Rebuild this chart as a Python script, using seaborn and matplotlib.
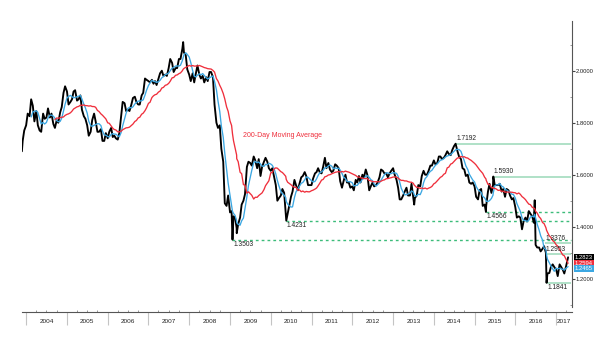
import numpy as np
import pandas as pd
import matplotlib
matplotlib.use("Agg")
import matplotlib.pyplot as plt
import matplotlib.dates as mdates
from matplotlib.ticker import FuncFormatter, FixedLocator
import seaborn as sns

# GBP/USD closes sampled on the 1st and 15th of each month
start_dates = ["2003-11-24", "2003-12-01", "2003-12-15"]
start_closes = [1.690, 1.730, 1.770]

closes_2004 = [1.790, 1.835, 1.825, 1.890, 1.865, 1.805, 1.845, 1.790, 1.770, 1.765, 1.835, 1.815,
               1.820, 1.855, 1.820, 1.835, 1.795, 1.780, 1.810, 1.800, 1.840, 1.860, 1.915, 1.940]
closes_2005 = [1.920, 1.870, 1.880, 1.890, 1.920, 1.925, 1.885, 1.890, 1.905, 1.850, 1.825, 1.815,
               1.790, 1.750, 1.765, 1.810, 1.835, 1.805, 1.765, 1.765, 1.775, 1.730, 1.730, 1.760]
closes_2006 = [1.740, 1.765, 1.780, 1.745, 1.750, 1.740, 1.735, 1.760, 1.825, 1.880, 1.875, 1.845,
               1.850, 1.845, 1.870, 1.895, 1.900, 1.880, 1.870, 1.870, 1.905, 1.915, 1.970, 1.965]
closes_2007 = [1.960, 1.955, 1.965, 1.950, 1.960, 1.945, 1.970, 1.990, 2.000, 1.980, 1.985, 1.980,
               2.010, 2.045, 2.030, 1.995, 2.010, 2.010, 2.045, 2.045, 2.085, 2.070, 2.060, 2.005]
closes_2008 = [1.985, 1.960, 1.990, 1.955, 1.990, 2.020, 1.985, 1.970, 1.980, 1.955, 1.975, 1.960,
               1.995, 1.995, 1.975, 1.870, 1.800, 1.780, 1.790, 1.700, 1.650, 1.490, 1.480, 1.520]
closes_2009 = [1.455, 1.460, 1.440, 1.435, 1.395, 1.410, 1.435, 1.485, 1.500, 1.525, 1.630, 1.650,
               1.645, 1.635, 1.670, 1.655, 1.625, 1.660, 1.595, 1.630, 1.650, 1.665, 1.650, 1.625]
closes_2010 = [1.615, 1.625, 1.590, 1.560, 1.500, 1.510, 1.520, 1.545, 1.530, 1.455, 1.450, 1.480,
               1.515, 1.535, 1.580, 1.560, 1.540, 1.565, 1.590, 1.595, 1.610, 1.595, 1.560, 1.560]
closes_2011 = [1.560, 1.585, 1.605, 1.610, 1.625, 1.610, 1.605, 1.630, 1.665, 1.625, 1.645, 1.620,
               1.610, 1.615, 1.640, 1.635, 1.625, 1.575, 1.550, 1.575, 1.600, 1.570, 1.570, 1.550]
closes_2012 = [1.555, 1.540, 1.580, 1.570, 1.595, 1.570, 1.600, 1.590, 1.620, 1.600, 1.540, 1.555,
               1.570, 1.555, 1.560, 1.570, 1.590, 1.620, 1.615, 1.605, 1.605, 1.590, 1.605, 1.615]
closes_2013 = [1.625, 1.600, 1.580, 1.550, 1.505, 1.505, 1.520, 1.535, 1.550, 1.520, 1.520, 1.565,
               1.510, 1.510, 1.520, 1.560, 1.555, 1.595, 1.615, 1.600, 1.600, 1.615, 1.635, 1.635]
closes_2014 = [1.655, 1.640, 1.645, 1.670, 1.670, 1.660, 1.665, 1.675, 1.690, 1.680, 1.675, 1.695,
               1.710, 1.700, 1.690, 1.670, 1.660, 1.625, 1.620, 1.595, 1.600, 1.570, 1.565, 1.570]
closes_2015 = [1.555, 1.515, 1.505, 1.540, 1.545, 1.480, 1.485, 1.480, 1.535, 1.565, 1.530, 1.560,
               1.560, 1.560, 1.560, 1.565, 1.535, 1.545, 1.515, 1.545, 1.540, 1.520, 1.505, 1.510]
closes_2016 = [1.475, 1.435, 1.440, 1.435, 1.390, 1.420, 1.435, 1.420, 1.460, 1.450, 1.440, 1.415,
               1.330, 1.320, 1.320, 1.305, 1.315, 1.325, 1.300, 1.220, 1.222, 1.245, 1.255, 1.245]
closes_2017 = [1.235, 1.210, 1.255, 1.245, 1.235, 1.220, 1.250]

# turning points and the latest close
pivot_dates = ["2007-11-08", "2009-01-23", "2009-03-02", "2010-05-20", "2013-07-09",
               "2014-07-15", "2015-04-13", "2015-06-18", "2016-06-23", "2016-10-07", "2017-04-18"]
pivot_closes = [2.1100, 1.3503, 1.3750, 1.4231, 1.4850,
                1.7192, 1.4566, 1.5930, 1.5018, 1.1841, 1.2823]

# horizontal reference levels
level_values = [1.7192, 1.5930, 1.4566, 1.4231, 1.3503, 1.3376, 1.2953, 1.1841]
level_starts = ["2014-07-15", "2015-06-18", "2015-04-13", "2010-05-20", "2009-01-23",
                "2016-09-23", "2016-09-23", "2016-10-07"]
level_dashed = [False, False, True, True, True, False, False, False]
level_label_above = [True, True, False, False, False, True, True, False]

year_labels = [str(y) for y in range(2004, 2018)]

# ---- assemble the series ----
yearly = {2004: closes_2004, 2005: closes_2005, 2006: closes_2006, 2007: closes_2007,
          2008: closes_2008, 2009: closes_2009, 2010: closes_2010, 2011: closes_2011,
          2012: closes_2012, 2013: closes_2013, 2014: closes_2014, 2015: closes_2015,
          2016: closes_2016, 2017: closes_2017}
parts = [pd.Series(start_closes, index=pd.to_datetime(start_dates))]
for yr, vals in yearly.items():
    idx = pd.date_range(f"{yr}-01-01", periods=len(vals), freq="SMS")
    parts.append(pd.Series(vals, index=idx))
parts.append(pd.Series(pivot_closes, index=pd.to_datetime(pivot_dates)))
price = pd.concat(parts)
price = price[~price.index.duplicated(keep="last")].sort_index()

first = price.index[0]
ma200 = price.rolling("290D").mean()
ma200[price.index < first + pd.Timedelta(days=290)] = np.nan
ma50 = price.rolling("72D").mean()
ma50[price.index < first + pd.Timedelta(days=70)] = np.nan

df = pd.DataFrame({"date": price.index, "close": price.values,
                   "ma50": ma50.values, "ma200": ma200.values})


def dnum(d):
    return mdates.date2num(pd.Timestamp(d).to_pydatetime())


# ---- figure ----
sns.set_theme(style="white")
plt.rcParams["font.family"] = ["Liberation Sans", "DejaVu Sans"]

fig = plt.figure(figsize=(6, 3.4), dpi=100)
ax = fig.add_axes([22 / 600, 1 - 312 / 340, 550 / 600, 291 / 340])

GREEN_SOLID = "#9ad9b8"
GREEN_DASH = "#3cbc7a"
BLUE = "#3ba7e2"
RED = "#ef2f3c"

xmin, xmax = dnum("2003-11-25"), dnum("2017-05-23")
line_end = dnum("2017-05-15")

sns.lineplot(data=df, x="date", y="close", color="black", lw=1.35, ax=ax, zorder=3)
sns.lineplot(data=df, x="date", y="ma50", color=BLUE, lw=0.95, ax=ax, zorder=4)
sns.lineplot(data=df, x="date", y="ma200", color=RED, lw=0.95, ax=ax, zorder=5)

for v, s, dashed, above in zip(level_values, level_starts, level_dashed, level_label_above):
    x0 = dnum(s)
    ax.hlines(v, x0, line_end, colors=GREEN_DASH if dashed else GREEN_SOLID,
              linestyles=(0, (2.0, 2.2)) if dashed else "-", lw=1.0 if dashed else 1.1, zorder=1)
    ax.annotate(f"{v:.4f}", xy=(x0, v), xytext=(0.5, 1.0 if above else -1.0),
                textcoords="offset points", ha="left", va="bottom" if above else "top",
                fontsize=4.8, color="#222222", zorder=6)

ax.text(dnum("2009-04-27"), 1.7527, "200-Day Moving Average", color=RED,
        fontsize=5.0, ha="left", va="center")

ax.set_xlim(xmin, xmax)
ax.set_ylim(1.0719, 2.1912)
ax.set_xlabel("")
ax.set_ylabel("")

# y axis on the right
ax.yaxis.tick_right()
ax.yaxis.set_major_locator(FixedLocator([1.2, 1.4, 1.6, 1.8, 2.0]))
ax.yaxis.set_minor_locator(FixedLocator([1.1, 1.3, 1.5, 1.7, 1.9, 2.1]))
ax.yaxis.set_major_formatter(FuncFormatter(lambda v, p: f"{v:.4f}"))
ax.tick_params(axis="y", which="both", left=False, right=True, labelleft=False, labelright=True)
ax.tick_params(axis="y", which="major", direction="out", length=2, width=0.8, pad=0.6,
               labelsize=4.2, color="#444444", labelcolor="#222222")
ax.tick_params(axis="y", which="minor", direction="in", length=1.5, width=0.6, color="#888888")

# x axis: year separators below, quarter marks above, year names centred in each span
ax.xaxis.set_major_locator(mdates.YearLocator())
ax.xaxis.set_minor_locator(mdates.MonthLocator(bymonth=[4, 7, 10]))
ax.tick_params(axis="x", which="both", bottom=True, top=False, labelbottom=False)
ax.tick_params(axis="x", which="major", direction="out", length=9.5, width=0.8, color="#c4c4c4")
ax.tick_params(axis="x", which="minor", direction="in", length=1.6, width=0.6, color="#888888")
xt = ax.get_xaxis_transform()
for lab in year_labels:
    y0 = max(dnum(f"{lab}-01-01"), xmin)
    y1 = min(dnum(f"{int(lab) + 1}-01-01"), xmax)
    mid = (y0 + y1) / 2
    ax.annotate(lab, xy=(mid, 0), xycoords=xt, xytext=(0, -6.6), textcoords="offset points",
                ha="center", va="center", fontsize=4.6, color="#222222", annotation_clip=False)

for side in ("left", "top"):
    ax.spines[side].set_visible(False)
ax.spines["right"].set_color("#555555")
ax.spines["right"].set_linewidth(0.8)
ax.spines["right"].set_bounds(1.091, 2.1912)
ax.spines["bottom"].set_color("#555555")
ax.spines["bottom"].set_linewidth(0.8)

# last-value tags on the right edge
last_close = price.iloc[-1]
last_red = ma200.iloc[-1]
last_blue = ma50.iloc[-1]
step = 0.0195
pos_black = last_close
pos_red = min(last_red, pos_black - step)
pos_blue = min(last_blue, pos_red - step)
yt = ax.get_yaxis_transform()
for val, pos, fc in [(last_close, pos_black, "black"), (last_red, pos_red, RED), (last_blue, pos_blue, BLUE)]:
    ax.annotate(f"{val:.4f}", xy=(1, pos), xycoords=yt, xytext=(2.0, 0), textcoords="offset points",
                ha="left", va="center", fontsize=4.2, color="white", annotation_clip=False,
                bbox=dict(boxstyle="square,pad=0.18", fc=fc, ec="none"))

fig.savefig("out.png", dpi=100, facecolor="white")
